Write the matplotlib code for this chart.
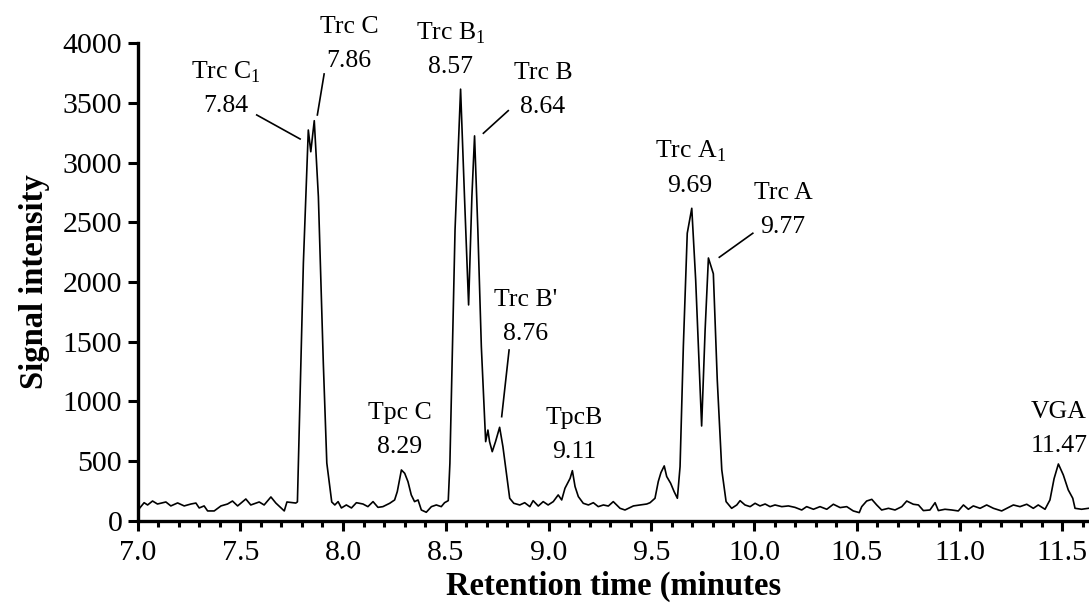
import matplotlib
matplotlib.use("Agg")
import matplotlib.pyplot as plt
from matplotlib.ticker import MultipleLocator

plt.rcParams['font.family'] = ['Liberation Serif', 'DejaVu Serif']
plt.rcParams['mathtext.fontset'] = 'custom'
plt.rcParams['mathtext.rm'] = 'Liberation Serif'

# chromatogram trace (minutes, signal)
time_min = [
    7.000, 7.032, 7.049, 7.073, 7.097, 7.138, 7.162, 7.195, 7.227, 7.260,
    7.284, 7.300, 7.324, 7.341, 7.373, 7.406, 7.438, 7.462, 7.487, 7.527,
    7.551, 7.592, 7.616, 7.649, 7.673, 7.714, 7.727, 7.770, 7.778, 7.791,
    7.807, 7.831, 7.843, 7.860, 7.880, 7.904, 7.921, 7.945, 7.960, 7.976,
    7.992, 8.016, 8.041, 8.065, 8.097, 8.121, 8.146, 8.170, 8.194, 8.227,
    8.251, 8.264, 8.284, 8.300, 8.316, 8.332, 8.348, 8.365, 8.381, 8.405,
    8.430, 8.454, 8.478, 8.494, 8.512, 8.520, 8.545, 8.572, 8.591, 8.611,
    8.627, 8.640, 8.656, 8.673, 8.694, 8.705, 8.713, 8.726, 8.742, 8.762,
    8.778, 8.795, 8.811, 8.831, 8.860, 8.884, 8.909, 8.925, 8.950, 8.974,
    8.998, 9.023, 9.047, 9.064, 9.080, 9.105, 9.116, 9.129, 9.145, 9.169,
    9.194, 9.218, 9.242, 9.267, 9.291, 9.315, 9.348, 9.372, 9.413, 9.445,
    9.478, 9.494, 9.518, 9.534, 9.547, 9.563, 9.575, 9.594, 9.611, 9.627,
    9.640, 9.656, 9.675, 9.697, 9.716, 9.745, 9.762, 9.778, 9.802, 9.821,
    9.843, 9.864, 9.891, 9.916, 9.932, 9.956, 9.981, 10.005, 10.029, 10.054,
    10.078, 10.102, 10.135, 10.167, 10.199, 10.232, 10.256, 10.289, 10.321, 10.354,
    10.386, 10.419, 10.451, 10.483, 10.512, 10.524, 10.548, 10.573, 10.597, 10.621,
    10.654, 10.686, 10.719, 10.743, 10.775, 10.800, 10.824, 10.856, 10.881, 10.897,
    10.929, 10.962, 10.994, 11.019, 11.043, 11.067, 11.100, 11.132, 11.165, 11.205,
    11.237, 11.262, 11.294, 11.327, 11.359, 11.383, 11.416, 11.440, 11.460, 11.481,
    11.505, 11.529, 11.551, 11.562, 11.594, 11.627,
]
signal = [
    86, 153, 134, 167, 142, 159, 126, 151, 126, 142,
    150, 109, 126, 84, 84, 126, 142, 167, 126, 184,
    134, 159, 134, 201, 150, 84, 159, 150, 160, 1040,
    2159, 3272, 3090, 3350, 2714, 1322, 485, 159, 134, 162,
    109, 134, 109, 153, 142, 120, 162, 114, 120, 148,
    176, 246, 427, 399, 329, 218, 162, 176, 92, 73,
    120, 134, 120, 153, 170, 483, 2436, 3614, 2714, 1808,
    2714, 3223, 2436, 1459, 664, 761, 664, 580, 664, 784,
    622, 399, 190, 148, 134, 153, 120, 170, 125, 162,
    134, 162, 218, 176, 274, 357, 421, 288, 204, 148,
    134, 153, 120, 134, 125, 162, 106, 92, 126, 134,
    142, 153, 190, 330, 405, 461, 372, 316, 246, 190,
    455, 1461, 2408, 2617, 2017, 795, 1601, 2201, 2069, 1182,
    428, 162, 106, 134, 170, 134, 120, 148, 126, 142,
    120, 134, 120, 126, 114, 92, 120, 98, 120, 98,
    140, 112, 120, 84, 70, 120, 167, 181, 134, 92,
    106, 92, 120, 167, 140, 134, 87, 92, 153, 87,
    98, 92, 84, 134, 98, 126, 106, 134, 106, 84,
    112, 134, 120, 140, 106, 134, 98, 176, 354, 477,
    385, 260, 190, 106, 98, 106,
]

# peak labels: name, retention time text, label x, label y of first line
peak_names = ["Trc C$_{1}$", "Trc C", "Tpc C", "Trc B$_{1}$", "Trc B",
              "Trc B'", "TpcB", "Trc A$_{1}$", "Trc A", "VGA"]
peak_times = ["7.84", "7.86", "8.29", "8.57", "8.64",
              "8.76", "9.11", "9.69", "9.77", "11.47"]
label_x = [7.431, 8.029, 8.277, 8.525, 8.973, 8.890, 9.124, 9.689, 10.141, 11.484]
label_y = [3758, 4131, 901, 4085, 3750, 1850, 860, 3091, 2745, 915]

# leader lines: (x0, y0, x1, y1)
leaders = [
    (7.580, 3398, 7.791, 3197),
    (7.908, 3741, 7.875, 3398),
    (8.804, 3434, 8.683, 3245),
    (8.808, 1431, 8.772, 873),
    (9.994, 2408, 9.831, 2207),
]

fig = plt.figure(figsize=(10.89, 6.06), dpi=100)
ax = fig.add_axes([0.1263, 0.1403, 0.8737, 0.7887])

ax.plot(time_min, signal, color='black', lw=1.2)

for name, rt, x, y in zip(peak_names, peak_times, label_x, label_y):
    ax.text(x, y, name, ha='center', va='center', fontsize=18.5, clip_on=False)
    ax.text(x, y - 285, rt, ha='center', va='center', fontsize=18.5, clip_on=False)

for x0, y0, x1, y1 in leaders:
    ax.plot([x0, x1], [y0, y1], color='black', lw=1.2, clip_on=False)

ax.set_xlim(7.0, 11.63)
ax.set_ylim(0, 4000)
ax.xaxis.set_major_locator(MultipleLocator(0.5))
ax.xaxis.set_minor_locator(MultipleLocator(0.1))
ax.yaxis.set_major_locator(MultipleLocator(500))
ax.xaxis.set_major_formatter(plt.FormatStrFormatter('%.1f'))

for side in ['top', 'right']:
    ax.spines[side].set_visible(False)
for side in ['left', 'bottom']:
    ax.spines[side].set_linewidth(2.4)

ax.tick_params(axis='both', which='major', direction='out', length=7, width=2.2,
               labelsize=21.5, pad=4)
ax.tick_params(axis='x', which='major', pad=7)
ax.tick_params(axis='x', which='minor', direction='out', length=4.5, width=2.2)

ax.set_xlabel('Retention time (minutes', fontsize=23.5, fontweight='bold', labelpad=3)
ax.set_ylabel('Signal intensity', fontsize=23.5, fontweight='bold', labelpad=9)

fig.savefig('out.png', dpi=100)
